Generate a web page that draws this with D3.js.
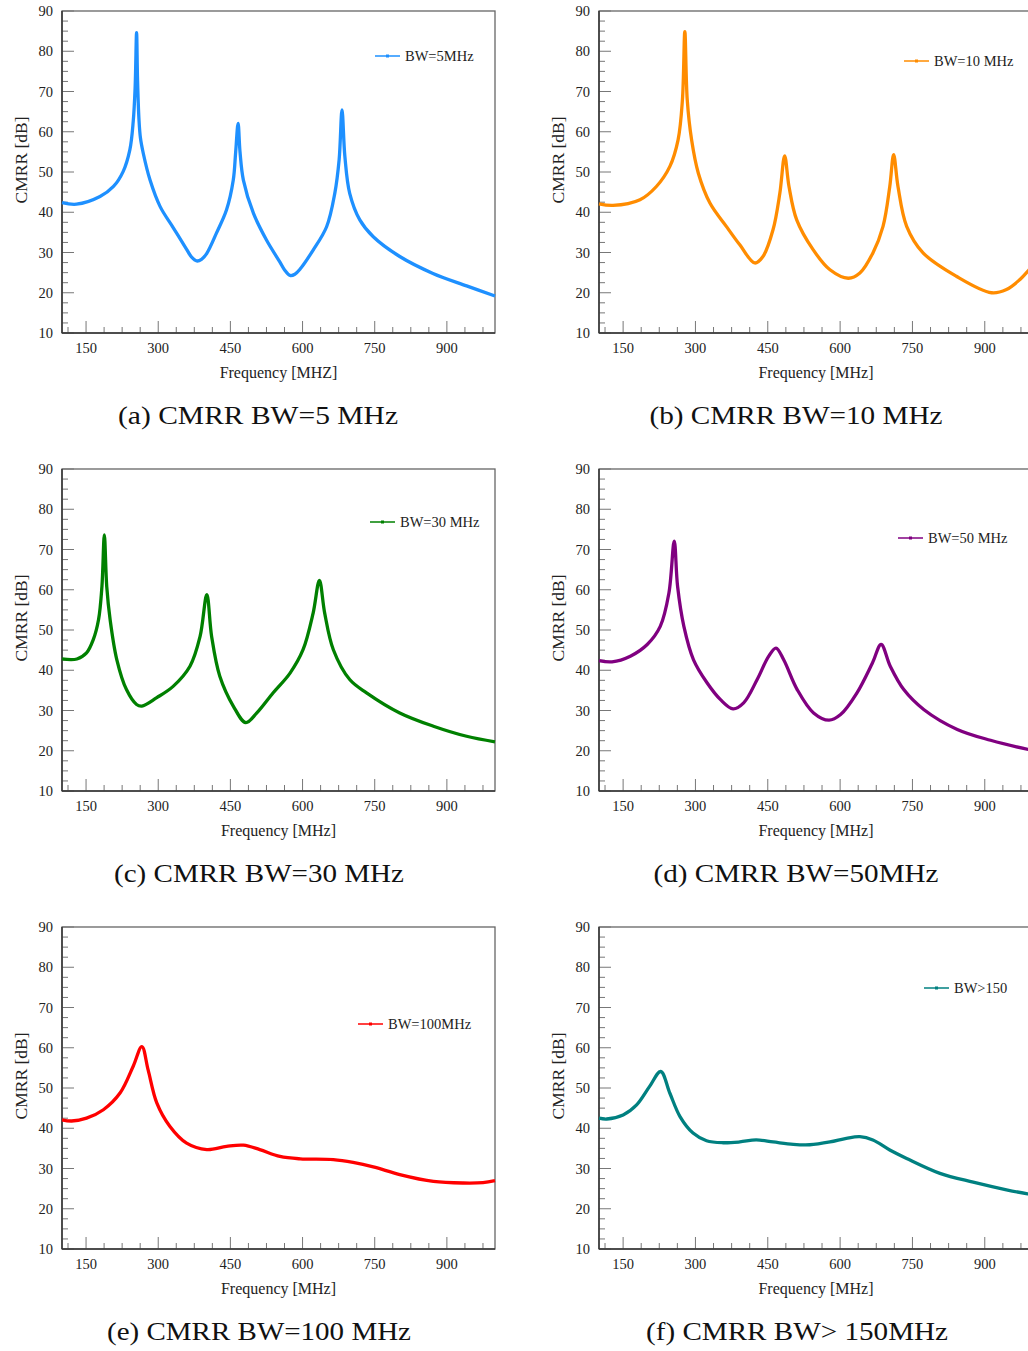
<!DOCTYPE html>
<meta charset="utf-8">
<style>
body { margin: 0; background: #fff; }
svg { display: block; }
text { font-family: "Liberation Serif", "Times New Roman", serif; fill: #222; }
.caption { font-size: 26px; fill: #111; }
</style>
<svg width="1028" height="1351"></svg>
<script src="https://d3js.org/d3.v7.min.js"></script>
<script>

// CMRR curves (frequency in MHz, CMRR in dB)
var freqA = [100,130,179,207,227,241,248,252,255,257,260,263,269,283,304,331,359,369,380,390,401,421,442,456,461,466,470,477,498,525,553,563,574,584,595,622,650,667,676,682,688,698,719,747,802,871,941,1000];
var cmrrA = [42.4,42.0,43.9,46.4,50.1,55.5,62.5,71,84.6,73,63,58.5,54.6,48,41.4,36.2,30.8,28.9,27.9,28.3,29.8,34.8,40.6,48,55,62.1,55,48,39.7,33.1,27.6,25.6,24.3,24.6,25.9,30.6,36.4,44.7,53,65.4,53.8,44.7,38.1,33.9,29,24.8,21.7,19.2];

var freqB = [100,129,185,219,247,264,273,278,283,292,306,330,364,392,423,440,461,475,485,494,510,544,579,617,641,668,689,703,711,720,738,772,841,914,945,973,989,1000];
var cmrrB = [42.1,41.7,43.1,46.4,51.4,58,67.9,84.9,67.9,58,49.7,42.3,36.5,31.9,27.4,29.0,35.7,44.7,54.0,46.4,38.1,30.7,25.7,23.6,24.9,29.9,36.5,46.4,54.3,46.4,36.5,29.9,24.1,20.0,20.8,23.3,25.3,27.0];

var freqC = [100,131,151,165,176,183,188,193,200,214,234,255,266,297,331,366,387,401,411,428,456,482,505,539,574,601,622,635,646,664,698,733,802,872,941,1000];
var cmrrC = [42.8,42.8,44.3,47.6,52.6,60.8,73.6,60.8,52.6,42.6,35.2,31.5,31.1,33.2,36.0,41.0,48.4,58.8,48.4,38.5,31.1,27.0,29.4,34.4,39.3,45.1,54.2,62.3,54.2,45.1,37.7,34.4,29.4,26.1,23.6,22.2];

var freqD = [100,127,165,200,227,245,256,263,276,296,324,352,378,400,428,452,467,483,511,545,577,601,635,667,685,704,732,774,843,912,991,1000];
var cmrrD = [42.4,42.1,43.5,46.4,50.9,59.2,72.1,60.8,50.9,42.6,36.9,32.7,30.4,31.9,37.7,43.5,45.5,42.6,35.2,29.4,27.6,29.0,34.4,41.8,46.4,41.0,35.2,30.2,25.3,22.6,20.3,20.1];

var freqE = [100,120,151,186,221,248,266,279,297,324,359,401,442,477,511,553,595,664,705,747,802,872,934,975,1000];
var cmrrE = [42.1,41.8,42.5,44.6,48.8,55.4,60.3,54.5,46.3,40.5,36.3,34.7,35.5,35.8,34.7,33.0,32.4,32.2,31.5,30.4,28.5,26.8,26.4,26.5,27.0];

var freqF = [100,116,150,178,205,228,247,268,295,323,357,392,426,461,503,537,579,613,641,668,703,738,807,876,945,989,1000];
var cmrrF = [42.5,42.3,43.3,45.8,50.4,54.1,48.7,42.9,38.8,36.9,36.4,36.6,37.1,36.6,36.0,35.9,36.6,37.5,37.9,37.1,34.6,32.5,28.8,26.6,24.7,23.7,23.5];

var legendNames = ["BW=5MHz", "BW=10 MHz", "BW=30 MHz", "BW=50 MHz", "BW=100MHz", "BW>150"];
var captions = ["(a) CMRR BW=5 MHz", "(b) CMRR BW=10 MHz", "(c) CMRR BW=30 MHz", "(d) CMRR BW=50MHz", "(e) CMRR BW=100 MHz", "(f) CMRR BW> 150MHz"];
var xTitles = ["Frequency [MHZ]", "Frequency [MHz]", "Frequency [MHz]", "Frequency [MHz]", "Frequency [MHz]", "Frequency [MHz]"];
var xDomain = [100, 1000];
var yDomain = [10, 90];
var xMajor = [150, 300, 450, 600, 750, 900];
var yMajor = [10, 20, 30, 40, 50, 60, 70, 80, 90];

var series = [[freqA, cmrrA], [freqB, cmrrB], [freqC, cmrrC], [freqD, cmrrD], [freqE, cmrrE], [freqF, cmrrF]];

// layout of the six panels
var panels = [
  {x: 62,  y: 11,  w: 433, color: "#1e90ff", leg: [313, 45],  cap: [258, 280]},
  {x: 599, y: 11,  w: 434, color: "#ff8c00", leg: [305, 50],  cap: [796, 293]},
  {x: 62,  y: 469, w: 433, color: "#008000", leg: [308, 53],  cap: [259, 290]},
  {x: 599, y: 469, w: 434, color: "#800080", leg: [299, 69],  cap: [796, 285]},
  {x: 62,  y: 927, w: 433, color: "#ff0000", leg: [296, 97],  cap: [259, 304]},
  {x: 599, y: 927, w: 434, color: "#008080", leg: [325, 61],  cap: [797, 302]}
];
var plotH = 322;

var svg = d3.select("svg");

panels.forEach(function(p, i) {
  var g = svg.append("g").attr("transform", "translate(" + p.x + "," + p.y + ")");

  var x = d3.scaleLinear().domain(xDomain).range([0, p.w]);
  var y = d3.scaleLinear().domain(yDomain).range([plotH, 0]);

  // frame
  g.append("rect")
    .attr("width", p.w).attr("height", plotH)
    .attr("fill", "none").attr("stroke", "#666").attr("stroke-width", 1.3);

  // minor ticks
  var xMinor = d3.range(112.5, 1000, 37.5).filter(function(v) { return xMajor.indexOf(v) < 0; });
  var yMinor = d3.range(12.5, 90, 2.5).filter(function(v) { return v % 10 !== 0; });

  g.selectAll(".xminor").data(xMinor).enter().append("line")
    .attr("x1", x).attr("x2", x).attr("y1", plotH).attr("y2", plotH - 6)
    .attr("stroke", "#777").attr("stroke-width", 1);
  g.selectAll(".xmajor").data(xMajor).enter().append("line")
    .attr("x1", x).attr("x2", x).attr("y1", plotH).attr("y2", plotH - 12)
    .attr("stroke", "#777").attr("stroke-width", 1);
  g.selectAll(".yminor").data(yMinor).enter().append("line")
    .attr("x1", 0).attr("x2", 6).attr("y1", y).attr("y2", y)
    .attr("stroke", "#777").attr("stroke-width", 1);
  g.selectAll(".ymajor").data(yMajor).enter().append("line")
    .attr("x1", 0).attr("x2", 12).attr("y1", y).attr("y2", y)
    .attr("stroke", "#777").attr("stroke-width", 1);

  // axes lines (darker left / bottom)
  g.append("line").attr("x1", 0).attr("x2", 0).attr("y1", 0).attr("y2", plotH)
    .attr("stroke", "#333").attr("stroke-width", 1.5);
  g.append("line").attr("x1", 0).attr("x2", p.w).attr("y1", plotH).attr("y2", plotH)
    .attr("stroke", "#333").attr("stroke-width", 1.5);

  // tick labels
  g.selectAll(".xl").data(xMajor).enter().append("text")
    .attr("x", x).attr("y", plotH + 20)
    .attr("text-anchor", "middle").style("font-size", "14.5px")
    .text(function(d) { return d; });
  g.selectAll(".yl").data(yMajor).enter().append("text")
    .attr("x", -9).attr("y", y).attr("dy", "0.36em")
    .attr("text-anchor", "end").style("font-size", "14.5px")
    .text(function(d) { return d; });

  // axis titles
  g.append("text")
    .attr("x", p.w / 2).attr("y", plotH + 45)
    .attr("text-anchor", "middle").style("font-size", "16px")
    .text(xTitles[i]);
  g.append("text")
    .attr("transform", "translate(-35," + 149 + ") rotate(-90)")
    .attr("text-anchor", "middle").style("font-size", "17.5px")
    .text("CMRR [dB]");

  // curve
  var pts = series[i][0].map(function(f, k) { return [f, series[i][1][k]]; });
  var line = d3.line()
    .x(function(d) { return x(d[0]); })
    .y(function(d) { return y(d[1]); })
    .curve(d3.curveCatmullRom.alpha(0.5));
  g.append("path")
    .datum(pts)
    .attr("d", line)
    .attr("fill", "none")
    .attr("stroke", p.color)
    .attr("stroke-width", 3.3)
    .attr("stroke-linejoin", "round");

  // legend
  var lg = g.append("g").attr("transform", "translate(" + p.leg[0] + "," + p.leg[1] + ")");
  lg.append("line").attr("x1", 0).attr("x2", 25).attr("y1", 0).attr("y2", 0)
    .attr("stroke", p.color).attr("stroke-width", 1.5);
  lg.append("rect").attr("x", 11).attr("y", -1.5).attr("width", 3).attr("height", 3)
    .attr("fill", p.color);
  lg.append("text").attr("x", 30).attr("y", 0).attr("dy", "0.34em")
    .style("font-size", "14.5px").text(legendNames[i]);

  // caption
  svg.append("text")
    .attr("class", "caption")
    .attr("x", p.cap[0]).attr("y", p.y + 413)
    .attr("text-anchor", "middle")
    .attr("textLength", p.cap[1]).attr("lengthAdjust", "spacingAndGlyphs")
    .text(captions[i]);
});

</script>
